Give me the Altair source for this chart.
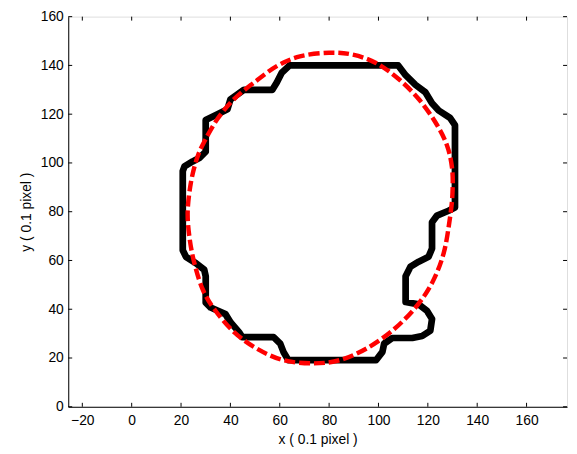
import altair as alt
import pandas as pd

# Black contour (x, y) in 0.1 pixel units
contour_x = [64, 108, 111, 115, 119, 121.7, 124.4, 129, 131, 131, 128.4, 123.7, 121.7, 121.7,
             120.3, 116.3, 113, 111, 111, 116.3, 119.7, 121.7, 121, 117.7, 113.7, 105.6, 102.3,
             101.6, 99, 63.5, 61.5, 60.2, 57.5, 44.8, 43.5, 40.1, 38, 32, 30, 30, 29.4, 26, 22,
             20.7, 20.7, 21.4, 24.7, 27.4, 30, 30, 34.8, 38.8, 40, 45.5, 57, 58.8, 60.8, 64]
contour_y = [140, 140, 136, 132, 129, 124.5, 121.5, 118.5, 115.5, 81.7, 80.4, 78.4, 75.7, 64.9,
             61.5, 59.5, 57.5, 53.5, 43, 42, 39.3, 36, 31.2, 29, 28.2, 28.2, 25.9,
             22.5, 19.1, 19.1, 22.5, 25.9, 28.6, 28.6, 30.6, 34.6, 38, 40.7, 42.7, 53.5, 56.2, 58.9, 61.5,
             64.2, 96.6, 98.6, 100.6, 102, 104.6, 117.6, 120, 122, 126, 130, 130, 133, 137, 140]

# Red dashed fitted ellipse
ell_x = [80, 89.6, 99, 108.3, 116.3, 123, 127.7, 129.8, 130, 129, 126.4, 121.7, 115, 105.6,
         95, 84.2, 73.6, 61.5, 50.8, 41.5, 33.5, 28.8, 25.4, 23.4, 22.7, 24.1, 26.5, 29.4,
         34.8, 41.5, 49.5, 58.8, 68.2]
ell_y = [145.2, 144.4, 141, 134.3, 126.2, 116.8, 107.4, 98, 88, 77.7, 62.9, 50.8, 40.7, 31.2,
         23.8, 19.1, 17.8, 19.1, 23.8, 30.6, 40, 48.1, 58.9, 69.6, 80.4, 92.5, 102, 108.7,
         118.1, 126.2, 132.9, 139.7, 143.7]

x_ticks = [-20, 0, 20, 40, 60, 80, 100, 120, 140, 160]
y_ticks = [0, 20, 40, 60, 80, 100, 120, 140, 160]

W, H = 505, 395
FONT = "Liberation Sans"

contour = pd.DataFrame({"x": contour_x, "y": contour_y, "o": range(len(contour_x))})
ellipse = pd.DataFrame({"x": ell_x, "y": ell_y, "o": range(len(ell_x))})
xt = pd.DataFrame({"v": x_ticks})
yt = pd.DataFrame({"v": y_ticks})

xs = alt.Scale(domain=[-25.7, 176.4], nice=False, zero=False)
ys = alt.Scale(domain=[0, 160], nice=False, zero=False)

xaxis = alt.Axis(values=x_ticks, title="x ( 0.1 pixel )", grid=False, tickSize=0,
                 labelPadding=7, titlePadding=5, domainColor="black",
                 labelFont=FONT, titleFont=FONT, labelFontSize=14, titleFontSize=14,
                 labelColor="black", titleColor="black", titleFontWeight="normal")
yaxis = alt.Axis(values=y_ticks, title="y ( 0.1 pixel )", grid=False, tickSize=0,
                 labelPadding=5, titlePadding=7, domainColor="black",
                 labelFont=FONT, titleFont=FONT, labelFontSize=14, titleFontSize=14,
                 labelColor="black", titleColor="black", titleFontWeight="normal")

black = alt.Chart(contour).mark_line(color="black", strokeWidth=6.8, strokeJoin="round",
                                     strokeCap="round").encode(
    x=alt.X("x:Q", scale=xs, axis=xaxis),
    y=alt.Y("y:Q", scale=ys, axis=yaxis),
    order="o:Q",
)

red = alt.Chart(ellipse).mark_line(color="#ff0000", strokeWidth=4.5, strokeDash=[11, 4],
                                   interpolate="cardinal-closed").encode(
    x=alt.X("x:Q", scale=xs),
    y=alt.Y("y:Q", scale=ys),
    order="o:Q",
)

tb = alt.Chart(xt).mark_rule(color="black", strokeWidth=1).encode(
    x=alt.X("v:Q", scale=xs), y=alt.value(H), y2=alt.value(H - 4))
tt = alt.Chart(xt).mark_rule(color="black", strokeWidth=1).encode(
    x=alt.X("v:Q", scale=xs), y=alt.value(0), y2=alt.value(4))
tl = alt.Chart(yt).mark_rule(color="black", strokeWidth=1).encode(
    y=alt.Y("v:Q", scale=ys), x=alt.value(0), x2=alt.value(4))
tr = alt.Chart(yt).mark_rule(color="black", strokeWidth=1).encode(
    y=alt.Y("v:Q", scale=ys), x=alt.value(W - 4), x2=alt.value(W))

chart = alt.layer(black, red, tb, tt, tl, tr).properties(
    width=W, height=H,
    autosize=alt.AutoSizeParams(type="none"),
    padding={"left": 61, "top": 6, "right": 2, "bottom": 40},
).configure_view(stroke="black", strokeWidth=1).configure(background="white")

chart.save("out.html", embed_options={"renderer": "svg", "actions": False})
